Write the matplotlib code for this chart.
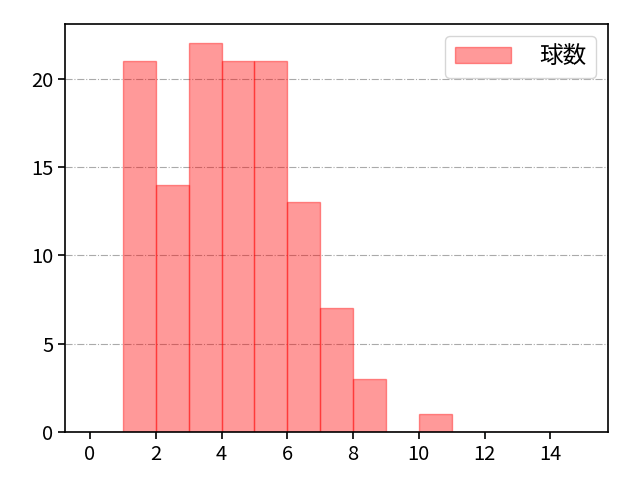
import matplotlib.pyplot as plt

plt.rcParams['font.family'] = ['Noto Sans CJK JP', 'DejaVu Sans']

# histogram counts per bin (bin i covers [i, i+1))
bin_edges = list(range(16))
counts = [0, 21, 14, 22, 21, 21, 13, 7, 3, 0, 1, 0, 0, 0, 0]
label = '球数'

fig, ax = plt.subplots(figsize=(6.4, 4.8), dpi=100)
fig.subplots_adjust(left=0.102, right=0.95, bottom=0.10, top=0.95)
centers = [e + 0.5 for e in bin_edges[:-1]]
ax.hist(centers, bins=bin_edges, weights=counts, color='red', alpha=0.4,
        edgecolor='red', linewidth=1, label=label)
ax.set_xlim(-0.75, 15.75)
ax.set_xticks([0, 2, 4, 6, 8, 10, 12, 14])
ax.tick_params(labelsize=14.5, width=1.2, length=5)
for s in ax.spines.values():
    s.set_linewidth(1.2)
ax.grid(axis='y', linestyle='-.', color='#aaaaaa', linewidth=0.8)
ax.set_axisbelow(True)
ax.legend(loc='upper right', fontsize=17, handlelength=2.4, handletextpad=1.2)
plt.savefig('out.png', dpi=100)
